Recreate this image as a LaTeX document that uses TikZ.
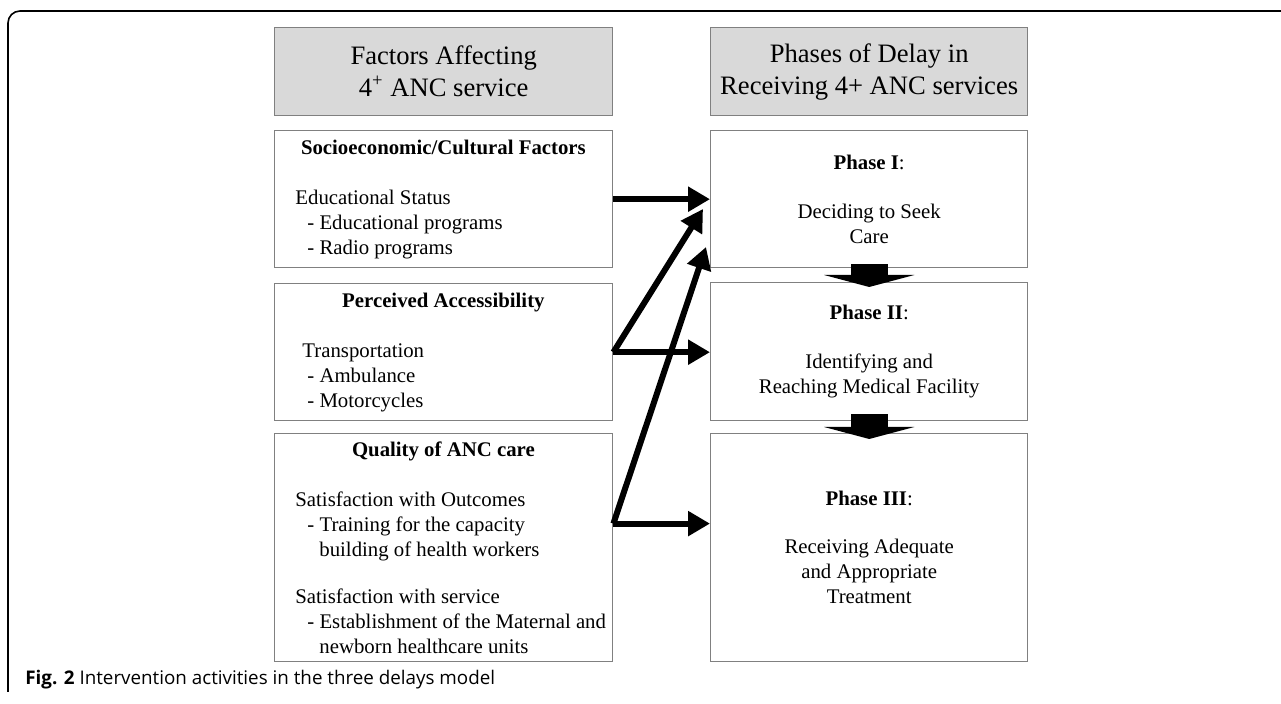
\documentclass[tikz,border=0pt]{standalone}
\usepackage{fontspec}
\setmainfont{Liberation Serif}
\newfontfamily\capfont{Open Sans}
\usetikzlibrary{arrows.meta,calc}
\definecolor{boxgray}{RGB}{128,128,128}
\definecolor{headfill}{RGB}{217,217,217}

\begin{document}
\begin{tikzpicture}[x=0.5pt,y=-0.5pt,
  headbox/.style={draw=boxgray, fill=headfill, line width=0.7pt, anchor=north west,
    minimum height=44pt, inner sep=0pt, align=center,
    font=\fontsize{13.3pt}{16pt}\selectfont},
  leftbox/.style={draw=boxgray, line width=0.7pt, anchor=north west,
    minimum width=169pt, inner sep=0pt},
  lefttext/.style={anchor=west, align=left, inner sep=0pt, xshift=10.5pt,
    font=\fontsize{10.4pt}{12.5pt}\selectfont},
  phasebox/.style={draw=boxgray, line width=0.7pt, anchor=north west,
    minimum width=158.5pt, inner sep=0pt, align=center,
    font=\fontsize{10.4pt}{12.5pt}\selectfont},
  link/.style={line width=3pt, -{Triangle[length=11pt,width=12pt]}},
  phasearrow/.style={line width=18.5pt, -{Triangle[length=6pt,width=45pt]}}]

\useasboundingbox (0,0) rectangle (1281,704);

\draw[line width=0.8pt, rounded corners=6pt] (8,692) -- (8,11) -- (1281,11);

% column headers
\node[headbox, minimum width=169pt] (factors) at (274,27) {Factors Affecting\\ 4\textsuperscript{+} ANC service};
\node[headbox, minimum width=158.5pt] (phases) at (710,27) {Phases of Delay in\\Receiving 4+ ANC services};

% factors
\node[leftbox, minimum height=68.5pt] (socio) at (274,130) {};
\node[lefttext] (sociotext) at (socio.west) {\makebox[148pt]{\textbf{Socioeconomic/Cultural Factors}}\\[12.5pt]
  Educational Status\\
  \hspace*{6pt}- Educational programs\\
  \hspace*{6pt}- Radio programs};

\node[leftbox, minimum height=68.5pt] (access) at (274,283) {};
\node[lefttext] (accesstext) at (access.west) {\makebox[148pt]{\textbf{Perceived Accessibility}}\\[12.5pt]
  \hspace*{3.5pt}Transportation\\
  \hspace*{6pt}- Ambulance\\
  \hspace*{6pt}- Motorcycles};

\node[leftbox, minimum height=114pt] (quality) at (274,433) {};
\node[lefttext] (qualitytext) at (quality.west) {\makebox[148pt]{\textbf{Quality of ANC care}}\\[12.5pt]
  Satisfaction with Outcomes\\
  \hspace*{6pt}- Training for the capacity\\
  \hspace*{12pt}building of health workers\\[11pt]
  Satisfaction with service\\
  \hspace*{6pt}- Establishment of the Maternal and\\
  \hspace*{12pt}newborn healthcare units};

% phases
\node[phasebox, minimum height=68.5pt] (phase1) at (710,130) {\textbf{Phase I}:\\[12pt]Deciding to Seek\\Care};
\node[phasebox, minimum height=69pt] (phase2) at (710,282) {\textbf{Phase II}:\\[12pt]Identifying and\\Reaching Medical Facility};
\node[phasebox, minimum height=114pt] (phase3) at (710,433) {\textbf{Phase III}:\\[11.5pt]Receiving Adequate\\and Appropriate\\Treatment};

\draw[phasearrow] ($(phase1.south)+(0,-4)$) -- ($(phase2.north)+(0,5)$);
\draw[phasearrow] ($(phase2.south)+(0,-7)$) -- ($(phase3.north)+(0,6)$);

% links
\coordinate (tipA) at (703,209);
\coordinate (tipB) at (706,247);
\coordinate (qout) at ($(quality.north east)!0.395!(quality.south east)$);

\draw[link] (socio.east) -- (phase1.west);
\draw[link] (access.east) -- (tipA);
\draw[link] (access.east) -- (access.east -| phase2.west);
\draw[link] (qout) -- (tipB);
\draw[link] (qout) -- (qout -| phase3.west);

\node[anchor=base west, inner sep=0pt, font=\capfont\fontsize{9.4pt}{11pt}\selectfont] (caption) at (25,685)
  {\textbf{Fig. 2} Intervention activities in the three delays model};

\end{tikzpicture}
\end{document}
